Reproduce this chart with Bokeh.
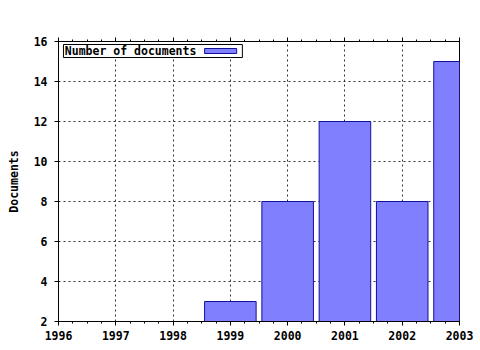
from bokeh.plotting import figure
from bokeh.models import (Range1d, LinearAxis, SingleIntervalTicker, BoxAnnotation,
                          Label, ColumnDataSource, CustomJSTickFormatter)
from bokeh.embed import file_html
from bokeh.resources import INLINE

years = [1999, 2000, 2001, 2002, 2003]
documents = [3, 8, 12, 8, 15]
series_name = "Number of documents"
y_title = "Documents"

FONT = "DejaVu Sans Mono"
FS = "11.5px"

p = figure(width=480, height=350, output_backend="svg", toolbar_location=None,
           x_range=Range1d(1996, 2003), y_range=Range1d(2, 16),
           x_axis_location=None, y_axis_location=None,
           min_border_left=58, min_border_right=21, min_border_top=41, min_border_bottom=29)
p.background_fill_color = "white"
p.border_fill_color = "white"
p.outline_line_color = "black"
p.outline_line_width = 1

src = ColumnDataSource(dict(x=years, top=documents))
p.vbar(x="x", top="top", bottom=0, width=0.9, source=src,
       fill_color="#8080ff", line_color="#10109a", line_width=1)

xt = SingleIntervalTicker(interval=1, num_minor_ticks=4)
yt = SingleIntervalTicker(interval=2, num_minor_ticks=0)

def style(ax):
    ax.axis_line_color = "black"
    ax.major_tick_line_color = "black"
    ax.minor_tick_line_color = "black"
    ax.major_tick_out = 4
    ax.major_tick_in = 0
    ax.minor_tick_out = 2
    ax.minor_tick_in = 0
    ax.major_label_text_font = FONT
    ax.major_label_text_font_style = "bold"
    ax.major_label_text_font_size = FS
    ax.major_label_text_color = "black"

xb = LinearAxis(ticker=xt)
style(xb)
xb.major_label_standoff = 5
p.add_layout(xb, "below")

xtop = LinearAxis(ticker=xt, formatter=CustomJSTickFormatter(code="return ''"))
style(xtop)
p.add_layout(xtop, "above")

yl = LinearAxis(ticker=yt, axis_label=y_title)
style(yl)
yl.major_label_standoff = 7
yl.axis_label_text_font = FONT
yl.axis_label_text_font_style = "bold"
yl.axis_label_text_font_size = FS
yl.axis_label_text_color = "black"
yl.axis_label_standoff = 10
p.add_layout(yl, "left")

p.xgrid.ticker = xt
p.ygrid.ticker = yt
for g in (p.xgrid, p.ygrid):
    g.grid_line_color = "#333333"
    g.grid_line_dash = "2 3"
    g.grid_line_width = 1

# legend box (text then swatch)
p.add_layout(BoxAnnotation(left=1996.087, right=1999.21, top=15.85, bottom=15.2,
                           fill_color="white", fill_alpha=1, line_color="black",
                           line_width=1, line_alpha=1))
p.add_layout(BoxAnnotation(left=1998.55, right=1999.11, top=15.65, bottom=15.4,
                           fill_color="#8080ff", fill_alpha=1, line_color="#10109a",
                           line_width=1, line_alpha=1))
p.add_layout(Label(x=1996.11, y=15.52, text=series_name, text_font=FONT,
                   text_font_style="bold", text_font_size=FS, text_baseline="middle",
                   text_color="black"))

open("out.html", "w").write(file_html(p, INLINE))
